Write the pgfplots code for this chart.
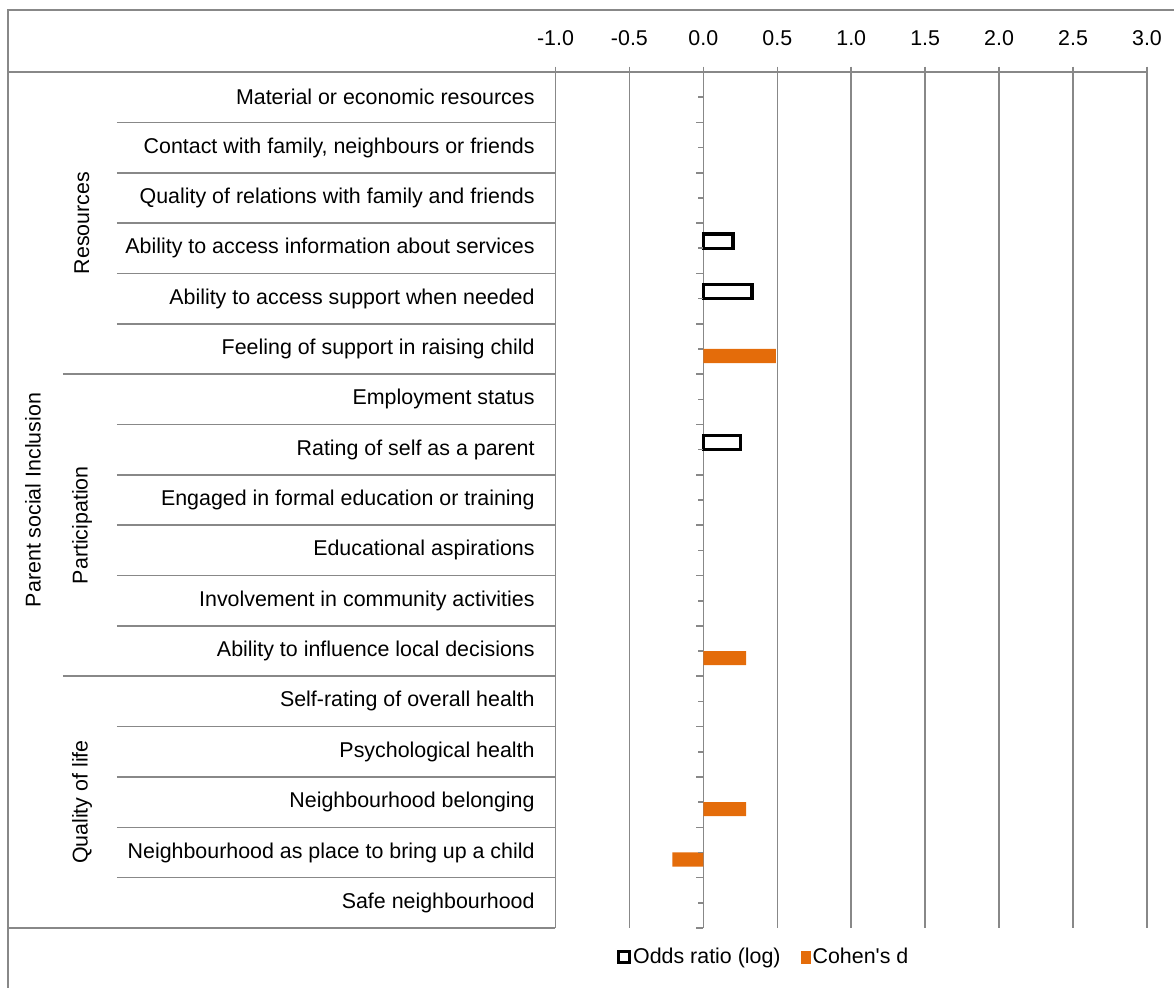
\documentclass[border=0pt]{standalone}
\usepackage{fontspec}
\setmainfont{Liberation Sans}
\usepackage{pgfplots}
\pgfplotsset{compat=1.18}
\definecolor{gridc}{HTML}{888888}
\definecolor{coh}{HTML}{E46C0A}
\newcommand\cf{\fontsize{10.7}{12.8}\selectfont}

\begin{document}
\cf
\begin{tikzpicture}
\path[use as bounding box] (-277.75pt,36pt) rectangle (309.25pt,-457.5pt);
% outer chart frame (cut by the page edge)
\draw[gridc,line width=0.8pt] (-273.75pt,-470pt) -- (-273.75pt,31pt) -- (320pt,31pt);
\begin{axis}[
  at={(0,0)},anchor=north west,scale only axis,
  width=295.75pt,height=428pt,
  xmin=-1,xmax=3,ymin=-0.5,ymax=16.5,y dir=reverse,
  clip=false,
  axis line style={draw=none},
  xtick={-1,-0.5,0,0.5,1,1.5,2,2.5,3},
  xtick pos=top,xticklabel pos=top,
  /pgf/number format/fixed,/pgf/number format/fixed zerofill,
  /pgf/number format/precision=1,/pgf/number format/assume math mode=true,
  xticklabel style={font=\cf,anchor=center,yshift=17pt},
  ytick=\empty,
  xmajorgrids,grid style={gridc,line width=0.8pt},
  major tick length=0pt,
  legend style={at={(0.3516,-0.0339)},anchor=center,draw=none,fill=none,
    legend columns=2,font=\cf,
    /tikz/every even column/.append style={column sep=9pt},
    nodes={inner xsep=1pt}},
]
\addplot[xbar,bar width=0.28,bar shift=-0.14,draw=black,fill=white,line width=1.7pt,
  legend image code/.code={\draw[black,line width=1.7pt,fill=white] (0pt,-2.8pt) rectangle (5.6pt,2.8pt);}]
  coordinates {(0.20,3) (0.33,4) (0.25,7)};
\addlegendentry{Odds ratio (log)}
\addplot[xbar,bar width=0.28,bar shift=0.14,draw=none,fill=coh,
  legend image code/.code={\fill[coh] (0pt,-3.25pt) rectangle (5pt,3.25pt);}]
  coordinates {(0.49,5) (0.29,11) (0.29,14) (-0.21,15)};
\addlegendentry{Cohen\textquotesingle s d}

% top axis line, joined to the label table
\draw[gridc,line width=0.8pt] ([xshift=-273.75pt]axis cs:-1,-0.5) -- (axis cs:3,-0.5);
\draw[gridc,line width=0.8pt] ([xshift=-273.75pt]axis cs:-1,16.5) -- (axis cs:-1,16.5);
% cross ticks on the top axis
\pgfplotsinvokeforeach{-1,-0.5,0,0.5,1,1.5,2,2.5,3}{
  \draw[gridc,line width=0.8pt] ([yshift=2.75pt]axis cs:#1,-0.5) -- ([yshift=-2.75pt]axis cs:#1,-0.5);
}
% row and group separators
\pgfplotsinvokeforeach{0.5,1.5,2.5,3.5,4.5,6.5,7.5,8.5,9.5,10.5,12.5,13.5,14.5,15.5}{
  \draw[gridc,line width=0.8pt] ([xshift=-219.25pt]axis cs:-1,#1) -- (axis cs:-1,#1);
}
\pgfplotsinvokeforeach{5.5,11.5}{
  \draw[gridc,line width=0.8pt] ([xshift=-246.25pt]axis cs:-1,#1) -- (axis cs:-1,#1);
}
% ticks on the zero axis
\pgfplotsinvokeforeach{-0.5,0.5,1.5,2.5,3.5,4.5,5.5,6.5,7.5,8.5,9.5,10.5,11.5,12.5,13.5,14.5,15.5,16.5}{
  \draw[gridc,line width=0.8pt] ([xshift=-3.5pt]axis cs:0,#1) -- (axis cs:0,#1);
}
\pgfplotsinvokeforeach{0,1,2,3,4,5,6,7,8,9,10,11,12,13,14,15,16}{
  \draw[gridc,line width=0.8pt] ([xshift=-2.5pt]axis cs:0,#1) -- (axis cs:0,#1);
}
% category labels
\tikzset{cat/.style={anchor=east,inner sep=0pt,font=\cf}}
\node[cat] at ([xshift=-10.25pt]axis cs:-1,0) {Material or economic resources};
\node[cat] at ([xshift=-10.25pt]axis cs:-1,1) {Contact with family, neighbours or friends};
\node[cat] at ([xshift=-10.25pt]axis cs:-1,2) {Quality of relations with family and friends};
\node[cat] at ([xshift=-10.25pt]axis cs:-1,3) {Ability to access information about services};
\node[cat] at ([xshift=-10.25pt]axis cs:-1,4) {Ability to access support when needed};
\node[cat] at ([xshift=-10.25pt]axis cs:-1,5) {Feeling of support in raising child};
\node[cat] at ([xshift=-10.25pt]axis cs:-1,6) {Employment status};
\node[cat] at ([xshift=-10.25pt]axis cs:-1,7) {Rating of self as a parent};
\node[cat] at ([xshift=-10.25pt]axis cs:-1,8) {Engaged in formal education or training};
\node[cat] at ([xshift=-10.25pt]axis cs:-1,9) {Educational aspirations};
\node[cat] at ([xshift=-10.25pt]axis cs:-1,10) {Involvement in community activities};
\node[cat] at ([xshift=-10.25pt]axis cs:-1,11) {Ability to influence local decisions};
\node[cat] at ([xshift=-10.25pt]axis cs:-1,12) {Self-rating of overall health};
\node[cat] at ([xshift=-10.25pt]axis cs:-1,13) {Psychological health};
\node[cat] at ([xshift=-10.25pt]axis cs:-1,14) {Neighbourhood belonging};
\node[cat] at ([xshift=-10.25pt]axis cs:-1,15) {Neighbourhood as place to bring up a child};
\node[cat] at ([xshift=-10.25pt]axis cs:-1,16) {Safe neighbourhood};
% group labels
\tikzset{grp/.style={rotate=90,anchor=center,inner sep=0pt,font=\cf}}
\node[grp] at ([xshift=-261.25pt]axis cs:-1,8) {Parent social Inclusion};
\node[grp] at ([xshift=-236.75pt]axis cs:-1,2.5) {Resources};
\node[grp] at ([xshift=-236.75pt]axis cs:-1,8.5) {Participation};
\node[grp] at ([xshift=-236.75pt]axis cs:-1,14) {Quality of life};
\end{axis}
\end{tikzpicture}
\end{document}
